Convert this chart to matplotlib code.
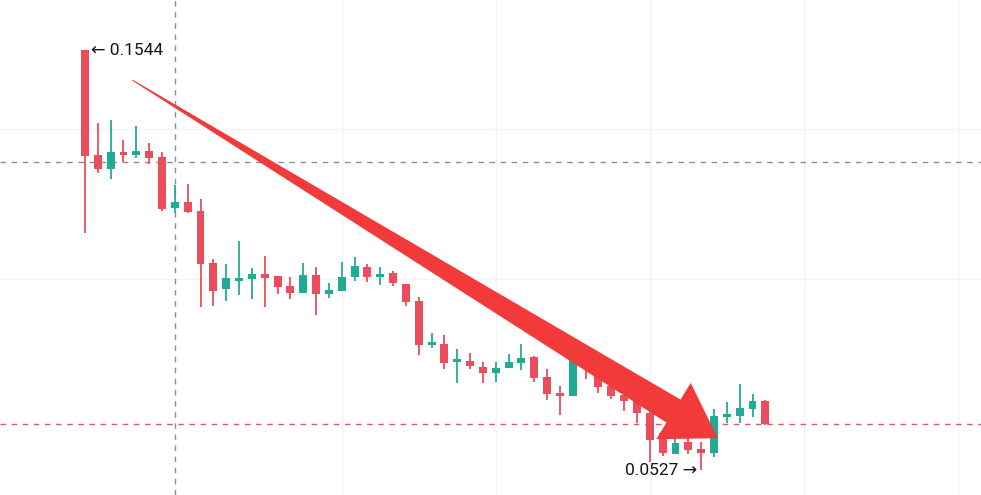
import matplotlib.pyplot as plt
import numpy as np
from matplotlib.patches import Polygon
from matplotlib.transforms import IdentityTransform

plt.rcParams['font.family'] = ['Roboto', 'DejaVu Sans']

# OHLC
opens = [0.1544, 0.1290, 0.1256, 0.1297, 0.1290, 0.1300, 0.1285, 0.1161, 0.1176, 0.1154,
         0.1028, 0.0965, 0.0985, 0.0990, 0.1002, 0.0997, 0.0973, 0.0956, 0.0999, 0.0953,
         0.0961, 0.0994, 0.1019, 0.0994, 0.1004, 0.0977, 0.0936, 0.0830, 0.0832, 0.0789,
         0.0791, 0.0776, 0.0762, 0.0774, 0.0786, 0.0801, 0.0752, 0.0713, 0.0706, 0.0793,
         0.0755, 0.0730, 0.0709, 0.0697, 0.0665, 0.0617, 0.0566, 0.0595, 0.0578, 0.0568,
         0.0655, 0.0658, 0.0675, 0.0694]
highs = [0.1544, 0.1367, 0.1375, 0.1326, 0.1360, 0.1319, 0.1297, 0.1217, 0.1220, 0.1183,
         0.1038, 0.1026, 0.1082, 0.1016, 0.1045, 0.0997, 0.0994, 0.1028, 0.1019, 0.0980,
         0.1031, 0.1043, 0.1026, 0.1019, 0.1009, 0.0977, 0.0946, 0.0859, 0.0854, 0.0820,
         0.0810, 0.0789, 0.0789, 0.0808, 0.0832, 0.0803, 0.0772, 0.0730, 0.0793, 0.0803,
         0.0769, 0.0740, 0.0721, 0.0709, 0.0672, 0.0624, 0.0605, 0.0605, 0.0595, 0.0675,
         0.0692, 0.0736, 0.0711, 0.0697]
lows = [0.1101, 0.1246, 0.1232, 0.1273, 0.1283, 0.1268, 0.1154, 0.1149, 0.1149, 0.0922,
        0.0924, 0.0936, 0.0951, 0.0941, 0.0922, 0.0953, 0.0941, 0.0956, 0.0902, 0.0944,
        0.0961, 0.0985, 0.0982, 0.0975, 0.0973, 0.0924, 0.0806, 0.0823, 0.0772, 0.0738,
        0.0772, 0.0738, 0.0740, 0.0774, 0.0769, 0.0740, 0.0697, 0.0660, 0.0706, 0.0747,
        0.0714, 0.0699, 0.0670, 0.0641, 0.0546, 0.0561, 0.0566, 0.0566, 0.0527, 0.0559,
        0.0641, 0.0641, 0.0655, 0.0636]
closes = [0.1287, 0.1256, 0.1297, 0.1290, 0.1300, 0.1283, 0.1159, 0.1176, 0.1152, 0.1026,
          0.0961, 0.0992, 0.0992, 0.1002, 0.0992, 0.0970, 0.0956, 0.0999, 0.0953, 0.0963,
          0.0994, 0.1021, 0.0994, 0.1002, 0.0980, 0.0934, 0.0830, 0.0835, 0.0786, 0.0793,
          0.0779, 0.0762, 0.0774, 0.0789, 0.0798, 0.0750, 0.0711, 0.0706, 0.0793, 0.0774,
          0.0728, 0.0706, 0.0694, 0.0665, 0.0600, 0.0568, 0.0592, 0.0576, 0.0568, 0.0658,
          0.0663, 0.0677, 0.0694, 0.0638]

high_label = '← 0.1544'
low_label = '0.0527 →'
cross_index = 7
cross_price = 0.1273
grid_prices = [0.1353, 0.0990]
grid_index = [20, 32, 44, 56, 68]

UP = '#22ab94'
DOWN = '#eb4d5c'

fig = plt.figure(figsize=(9.81, 4.95), dpi=100)
ax = fig.add_axes([0, 0, 1, 1])
ax.set_xlim(-6.62, 69.8)
ax.set_ylim(0.04665, 0.16651)
ax.axis('off')

for p in grid_prices:
    ax.axhline(p, color='#f3f3f5', lw=1, zorder=0)
for i in grid_index:
    ax.axvline(i, color='#f3f3f5', lw=1, zorder=0)

x = np.arange(len(opens))
for i in x:
    o, h, l, c = opens[i], highs[i], lows[i], closes[i]
    col = UP if c >= o else DOWN
    ax.vlines(i, l, h, color=col, lw=1.3, zorder=2)
    ax.bar(i, max(abs(c - o), 0.0006), bottom=min(o, c), width=0.62,
           color=col, zorder=3, linewidth=0)

# crosshair and last price line
ax.axhline(cross_price, color='#8a8d96', lw=1, dashes=(4, 4), zorder=1)
ax.axvline(cross_index, color='#8a8d96', lw=1, dashes=(4, 4), zorder=1)
ax.axhline(closes[-1], color='#e0566a', lw=1, dashes=(4, 4), zorder=1)

# high / low labels
hi = int(np.argmax(highs))
lo = int(np.argmin(lows))
ax.text(hi + 0.45, highs[hi], high_label, fontsize=12.5, color='#131722',
        va='center', ha='left', zorder=5)
ax.text(lo - 0.3, lows[lo], low_label, fontsize=12.5, color='#131722',
        va='center', ha='right', zorder=5)

# big red arrow, built in pixel space
fig.canvas.draw()
tail = ax.transData.transform((3.7, 0.1471))
tip = ax.transData.transform((49.3, 0.0604))
d = tip - tail
L = np.hypot(*d)
u = d / L
n = np.array([-u[1], u[0]])
head_len, head_w, shaft_w = 52, 66, 27
base = tip - u * head_len
pts = [tail + n * 0.5,
       base + n * shaft_w / 2,
       base + n * head_w / 2,
       tip,
       base - n * head_w / 2,
       base - n * shaft_w / 2,
       tail - n * 0.5]
ax.add_patch(Polygon(pts, closed=True, facecolor='#f23a3a', edgecolor='none',
                     transform=IdentityTransform(), zorder=4))

fig.savefig('out.png', dpi=100)
